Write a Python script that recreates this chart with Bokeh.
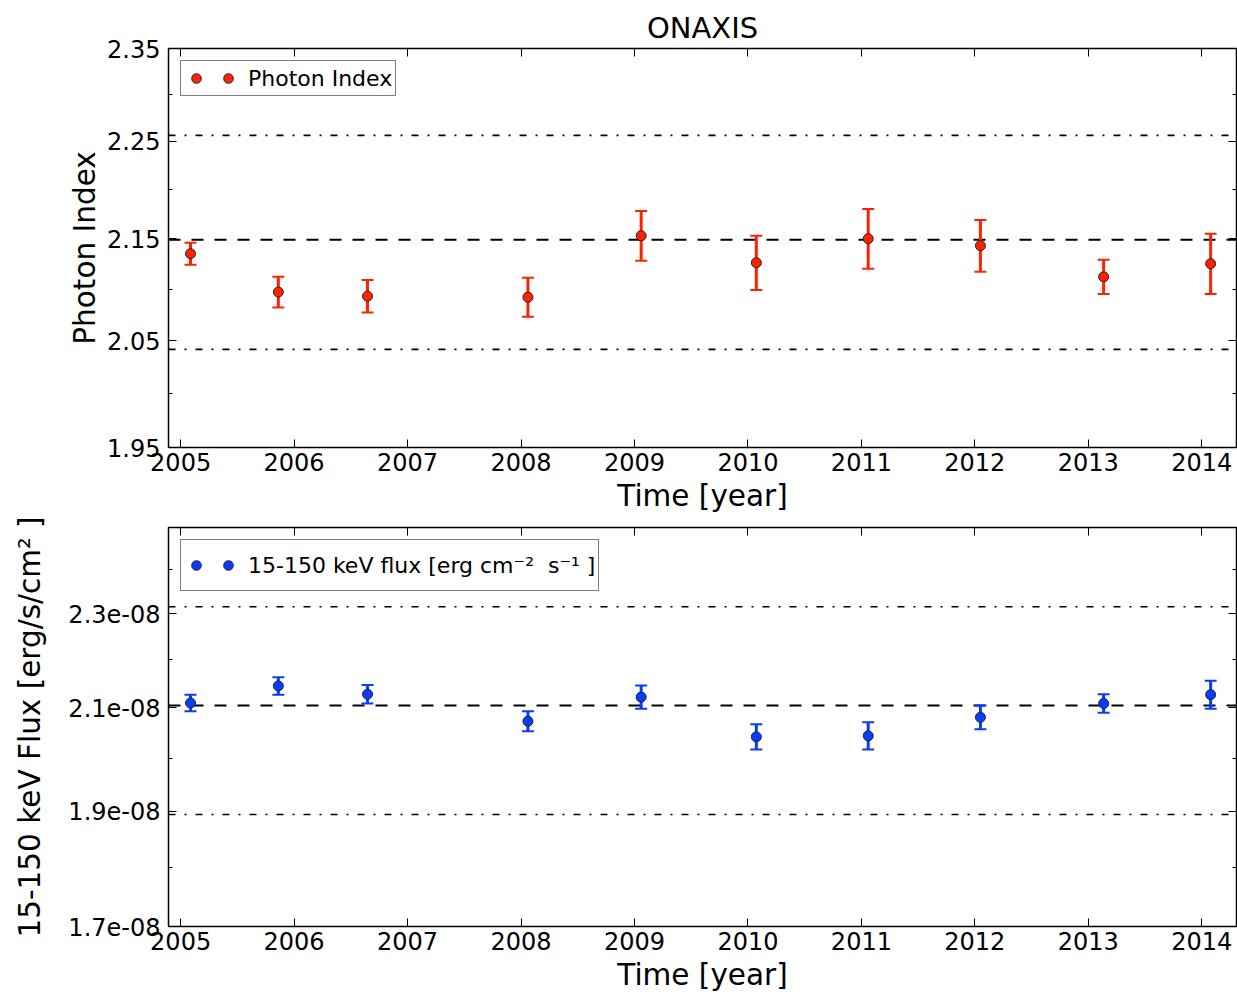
from bokeh.plotting import figure
from bokeh.layouts import column
from bokeh.models import (ColumnDataSource, Whisker, TeeHead, Span, Legend, LegendItem,
                          FixedTicker, LinearAxis, LogAxis, Range1d, CustomJSTickFormatter)
from bokeh.core.properties import value
from bokeh.embed import file_html
from bokeh.resources import INLINE

# Observation epochs (decimal years)
years = [2005.087, 2005.861, 2006.647, 2008.061, 2009.059,
         2010.074, 2011.060, 2012.049, 2013.135, 2014.078]

# Spectral photon index per epoch
photon_index = [2.135, 2.097, 2.093, 2.092, 2.153, 2.126, 2.150, 2.143, 2.112, 2.125]
photon_index_err = [0.011, 0.015, 0.016, 0.019, 0.025, 0.027, 0.030, 0.026, 0.017, 0.030]

# 15-150 keV flux per epoch [erg/s/cm^2]
flux = [2.110e-8, 2.145e-8, 2.128e-8, 2.073e-8, 2.122e-8,
        2.042e-8, 2.044e-8, 2.081e-8, 2.109e-8, 2.127e-8]
flux_err = [0.017e-8, 0.018e-8, 0.019e-8, 0.020e-8, 0.024e-8,
            0.025e-8, 0.027e-8, 0.024e-8, 0.019e-8, 0.029e-8]

# Reference levels and fractional bands
index_ref = 2.149
index_band = 0.05
flux_ref = 2.105e-8
flux_band = 0.10

# Axis ticks
year_ticks = [2005, 2006, 2007, 2008, 2009, 2010, 2011, 2012, 2013, 2014]
index_ticks = [1.95, 2.05, 2.15, 2.25, 2.35]
index_tick_labels = ["1.95", "2.05", "2.15", "2.25", "2.35"]
index_minor = [2.0, 2.1, 2.2, 2.3]
flux_ticks = [1.7e-8, 1.9e-8, 2.1e-8, 2.3e-8]
flux_tick_labels = ["1.7e-08", "1.9e-08", "2.1e-08", "2.3e-08"]
flux_minor = [1.8e-8, 2.0e-8, 2.2e-8, 2.4e-8]

RED = "#ff2200"
BLUE = "#0a3cff"
FONT = "DejaVu Sans"
BLANK = CustomJSTickFormatter(code="return ''")


def style_axes(p, yticks, ylabels, yminor, ylabel_text, ylabel_standoff):
    p.grid.visible = False
    p.outline_line_color = "black"
    p.outline_line_width = 1.5

    xt = FixedTicker(ticks=year_ticks)
    yt = FixedTicker(ticks=yticks, minor_ticks=yminor)

    p.xaxis.ticker = xt
    p.yaxis.ticker = yt
    p.yaxis.major_label_overrides = dict(zip(yticks, ylabels))
    p.xaxis.major_label_overrides = {t: str(t) for t in year_ticks}

    for ax in (p.xaxis[0], p.yaxis[0]):
        ax.axis_line_color = None
        ax.major_tick_in = 8
        ax.major_tick_out = 0
        ax.minor_tick_in = 4
        ax.minor_tick_out = 0
        ax.major_tick_line_color = "black"
        ax.minor_tick_line_color = "black"
        ax.major_label_text_font = FONT
        ax.major_label_text_font_size = "24px"
        ax.major_label_text_color = "black"
        ax.axis_label_text_font = FONT
        ax.axis_label_text_font_size = "29.5px"
        ax.axis_label_text_font_style = "normal"
        ax.axis_label_text_color = "black"
    p.xaxis.minor_tick_line_color = None
    p.xaxis.major_label_standoff = 5
    p.yaxis.major_label_standoff = 8
    p.xaxis.axis_label = "Time [year]"
    p.xaxis.axis_label_standoff = 5
    p.yaxis.axis_label = ylabel_text
    p.yaxis.axis_label_standoff = ylabel_standoff

    # tick marks on the top and right edges of the frame, without labels
    top = LinearAxis(ticker=FixedTicker(ticks=year_ticks), formatter=BLANK)
    right = LogAxis(ticker=FixedTicker(ticks=yticks, minor_ticks=yminor), formatter=BLANK)
    for ax in (top, right):
        ax.axis_line_color = None
        ax.major_tick_in = 8
        ax.major_tick_out = 0
        ax.minor_tick_in = 4
        ax.minor_tick_out = 0
        ax.major_label_standoff = 0
        ax.major_label_text_font_size = "1px"
    top.minor_tick_line_color = None
    p.add_layout(top, "above")
    p.add_layout(right, "right")


def add_levels(p, ref, band):
    p.add_layout(Span(location=ref, dimension="width", line_color="black",
                      line_width=2, line_dash="12 11", level="underlay"))
    for loc in (ref * (1 + band), ref * (1 - band)):
        p.add_layout(Span(location=loc, dimension="width", line_color="black",
                          line_width=1.6, line_dash="7 9 2 9", level="underlay"))


def add_series(p, x, y, err, color, label, glyph_h):
    src = ColumnDataSource(dict(x=x, y=y,
                                upper=[a + b for a, b in zip(y, err)],
                                lower=[a - b for a, b in zip(y, err)]))
    p.add_layout(Whisker(source=src, base="x", upper="upper", lower="lower",
                         dimension="height", line_color=color, line_width=3,
                         upper_head=TeeHead(size=12, line_color=color, line_width=2),
                         lower_head=TeeHead(size=12, line_color=color, line_width=2),
                         level="underlay"))
    r = p.scatter("x", "y", source=src, size=10, fill_color=color,
                  line_color="#222222", line_width=1)
    # two legend entries side by side give the pair of sample markers
    leg = Legend(items=[LegendItem(label=value(" "), renderers=[r]),
                        LegendItem(label=value(label), renderers=[r])],
                 orientation="horizontal", location="top_left", margin=12,
                 padding=3, spacing=-11, label_width=0, glyph_width=24,
                 glyph_height=glyph_h, label_standoff=8, label_text_font=FONT,
                 label_text_font_size="22px", label_text_color="black",
                 border_line_color="black", border_line_width=1.5,
                 background_fill_color="white", background_fill_alpha=1.0)
    p.add_layout(leg)


p1 = figure(width=1237, height=515, x_range=Range1d(2004.893, 2014.306),
            y_range=Range1d(1.95, 2.35),
            y_axis_type="log", output_backend="svg", toolbar_location=None,
            min_border_left=168, min_border_right=1, min_border_top=48,
            min_border_bottom=68, title="ONAXIS")
p1.title.align = "center"
p1.title.text_font = FONT
p1.title.text_font_size = "29px"
p1.title.text_font_style = "normal"
p1.title.text_color = "black"
p1.title.standoff = 7
style_axes(p1, index_ticks, index_tick_labels, index_minor, "Photon Index", 2)
add_levels(p1, index_ref, index_band)
add_series(p1, years, photon_index, photon_index_err, RED, "Photon Index", 28)

p2 = figure(width=1237, height=479, x_range=Range1d(2004.893, 2014.306),
            y_range=Range1d(1.7e-8, 2.5e-8),
            y_axis_type="log", output_backend="svg", toolbar_location=None,
            min_border_left=168, min_border_right=1, min_border_top=12,
            min_border_bottom=68)
style_axes(p2, flux_ticks, flux_tick_labels, flux_minor,
           "15-150 keV Flux [erg/s/cm² ]", 18)
add_levels(p2, flux_ref, flux_band)
add_series(p2, years, flux, flux_err, BLUE, "15-150 keV flux [erg cm⁻²  s⁻¹ ]", 44)

layout = column(p1, p2, spacing=0)
open("out.html", "w").write(file_html(layout, INLINE))
